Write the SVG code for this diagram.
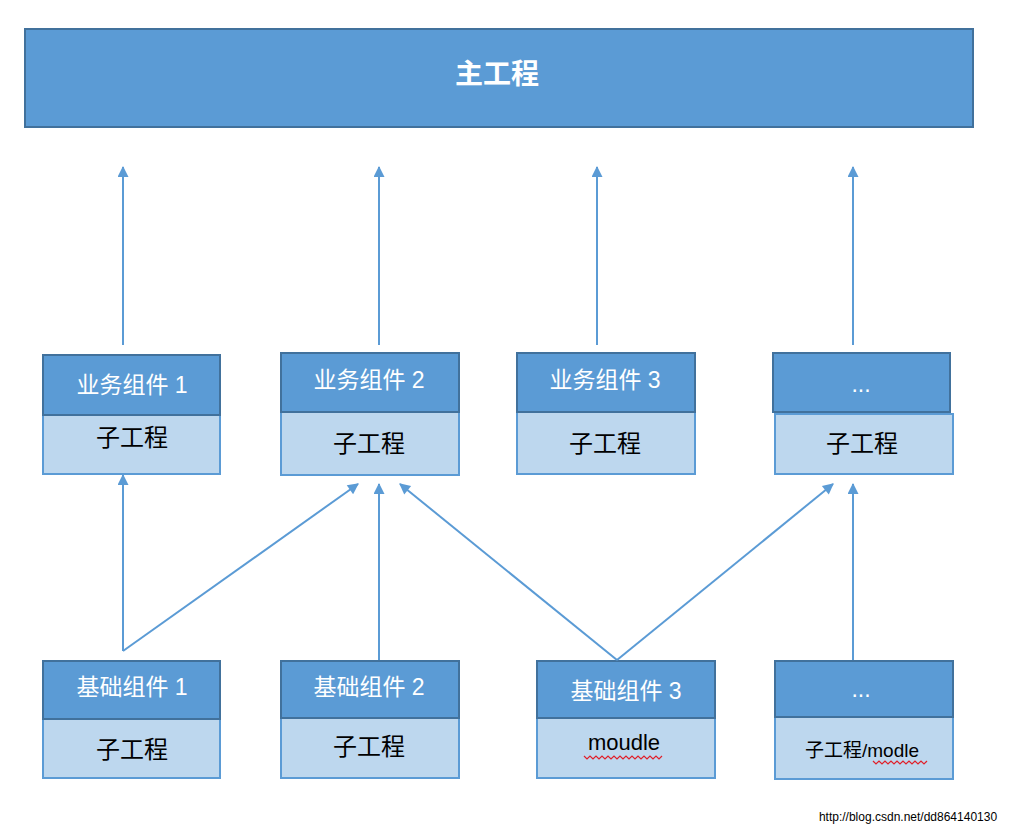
<svg xmlns="http://www.w3.org/2000/svg" width="1010" height="834" viewBox="0 0 1010 834">
<style>
.hd{fill:#5b9bd5;stroke:#41719c;stroke-width:2}
.bd{fill:#bdd7ee;stroke:#5b9bd5;stroke-width:2}
.ht{fill:#fff;font-family:"Liberation Sans","Noto Sans CJK SC",sans-serif;font-size:23px;text-anchor:middle}
.bt{fill:#000;font-family:"Liberation Sans","Noto Sans CJK SC",sans-serif;font-size:24px;text-anchor:middle}
.ln{stroke:#5b9bd5;stroke-width:2;fill:none;marker-end:url(#ah)}
.sq{stroke:#e0202a;stroke-width:1.2;fill:none}
</style>
<defs>
<marker id="ah" viewBox="0 0 10 10" refX="9" refY="5" markerWidth="13" markerHeight="11" markerUnits="userSpaceOnUse" orient="auto"><path d="M0,0 L10,5 L0,10 z" fill="#5b9bd5"/></marker>
</defs>
<rect width="1010" height="834" fill="#fff"/>
<g id="main"><rect x="25" y="29" width="948" height="98" class="hd"/><text x="497" y="84" class="ht" style="font-size:28px;font-weight:bold">主工程</text></g>
<g id="biz1"><rect x="43" y="415" width="177" height="59" class="bd"/><rect x="43" y="355" width="177" height="60" class="hd"/><text x="132" y="393" class="ht">业务组件 1</text><text x="132" y="446" class="bt">子工程</text></g>
<g id="biz2"><rect x="281" y="412" width="178" height="63" class="bd"/><rect x="281" y="353" width="178" height="59" class="hd"/><text x="369" y="388" class="ht">业务组件 2</text><text x="369" y="452" class="bt">子工程</text></g>
<g id="biz3"><rect x="517" y="412" width="178" height="62" class="bd"/><rect x="517" y="353" width="178" height="59" class="hd"/><text x="605" y="388" class="ht">业务组件 3</text><text x="605" y="452" class="bt">子工程</text></g>
<g id="biz4"><rect x="775" y="414" width="178" height="60" class="bd"/><rect x="773" y="353" width="177" height="59" class="hd"/><text x="861" y="392" class="ht">...</text><text x="862" y="452" class="bt">子工程</text></g>
<g id="base1"><rect x="43" y="719" width="177" height="59" class="bd"/><rect x="43" y="661" width="177" height="58" class="hd"/><text x="132" y="695" class="ht">基础组件 1</text><text x="132" y="758" class="bt">子工程</text></g>
<g id="base2"><rect x="281" y="718" width="178" height="60" class="bd"/><rect x="281" y="661" width="178" height="57" class="hd"/><text x="369" y="695" class="ht">基础组件 2</text><text x="369" y="755" class="bt">子工程</text></g>
<g id="base3"><rect x="537" y="718" width="178" height="60" class="bd"/><rect x="537" y="661" width="178" height="57" class="hd"/><text x="626" y="699" class="ht">基础组件 3</text><text x="624" y="750" class="bt" style="font-size:22px">moudle</text><path class="sq" d="M584,756 l3,3 l3,-3 l3,3 l3,-3 l3,3 l3,-3 l3,3 l3,-3 l3,3 l3,-3 l3,3 l3,-3 l3,3 l3,-3 l3,3 l3,-3 l3,3 l3,-3 l3,3 l3,-3 l3,3 l3,-3 l3,3 l3,-3 l3,3 l3,-3"/></g>
<g id="base4"><rect x="775" y="717" width="178" height="62" class="bd"/><rect x="775" y="661" width="178" height="56" class="hd"/><text x="861" y="697" class="ht">...</text><text x="862" y="757" class="bt" style="font-size:19px">子工程/modle</text><path class="sq" d="M873,761 l3,3 l3,-3 l3,3 l3,-3 l3,3 l3,-3 l3,3 l3,-3 l3,3 l3,-3 l3,3 l3,-3 l3,3 l3,-3 l3,3 l3,-3 l3,3 l3,-3"/></g>
<g id="connectors">
<line x1="123" y1="345" x2="123" y2="167" class="ln"/>
<line x1="379" y1="345" x2="379" y2="167" class="ln"/>
<line x1="597" y1="345" x2="597" y2="167" class="ln"/>
<line x1="853" y1="345" x2="853" y2="167" class="ln"/>
<line x1="123" y1="651" x2="123" y2="475" class="ln"/>
<line x1="123" y1="651" x2="358" y2="484" class="ln"/>
<line x1="379" y1="660" x2="379" y2="484" class="ln"/>
<line x1="617" y1="660" x2="400" y2="484" class="ln"/>
<line x1="617" y1="660" x2="833" y2="484" class="ln"/>
<line x1="853" y1="660" x2="853" y2="484" class="ln"/>
</g>
<text x="908" y="821" style="font-family:'Liberation Sans',sans-serif;font-size:12px;text-anchor:middle;fill:#000">http://blog.csdn.net/dd864140130</text>
</svg>
